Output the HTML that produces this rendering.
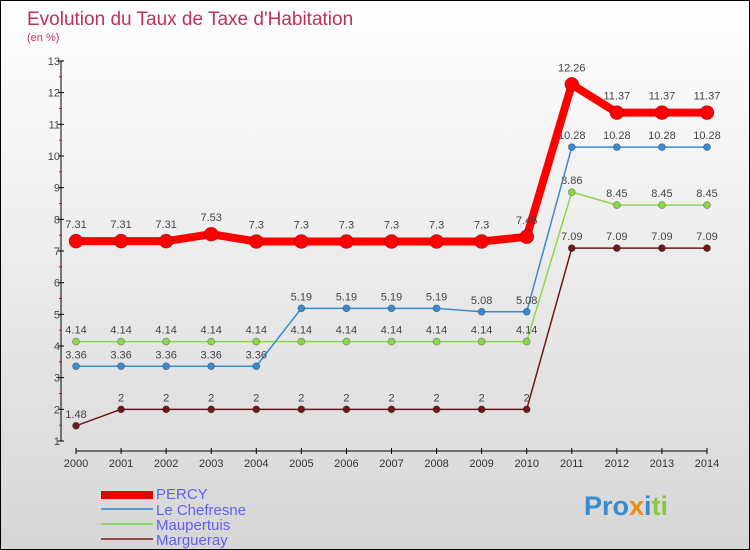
<!DOCTYPE html>
<html><head><meta charset="utf-8"><style>
body{margin:0}
#c{width:750px;height:550px;position:relative;overflow:hidden;box-sizing:border-box;border:1px solid #000;background:linear-gradient(#fff,#d6d6d6);font-family:"Liberation Sans",sans-serif}
</style></head><body>
<div id="c">
<svg id="s" width="750" height="550" style="position:absolute;left:0;top:0">
<text x="26" y="24" font-size="19" fill="#c0305a">Evolution du Taux de Taxe d'Habitation</text>
<text x="26" y="40" font-size="11" fill="#c0305a">(en %)</text>
<g id="ax"></g><g id="ser"></g>
<g font-size="15" fill="#6060ee">
<rect x="100" y="490" width="52" height="8" fill="#e00"/>
<text x="155" y="498">PERCY</text>
<line x1="100" x2="152" y1="508" y2="508" stroke="#5b9ad0" stroke-width="2"/>
<text x="155" y="514">Le Chefresne</text>
<line x1="100" x2="152" y1="523" y2="523" stroke="#8cd66a" stroke-width="2"/>
<text x="155" y="529">Maupertuis</text>
<line x1="100" x2="152" y1="538" y2="538" stroke="#8a4a4a" stroke-width="2"/>
<text x="155" y="544">Margueray</text>
</g>
<text x="583" y="514" font-size="27" font-weight="bold"><tspan fill="#3a8ad0">Pro</tspan><tspan fill="#f08a10">x</tspan><tspan fill="#3a8ad0">i</tspan><tspan fill="#8cc63e">ti</tspan></text>
</svg>
</div>
<script>
const years=[2000,2001,2002,2003,2004,2005,2006,2007,2008,2009,2010,2011,2012,2013,2014];
const percy=[7.31,7.31,7.31,7.53,7.3,7.3,7.3,7.3,7.3,7.3,7.45,12.26,11.37,11.37,11.37];
const chefresne=[3.36,3.36,3.36,3.36,3.36,5.19,5.19,5.19,5.19,5.08,5.08,10.28,10.28,10.28,10.28];
const maupertuis=[4.14,4.14,4.14,4.14,4.14,4.14,4.14,4.14,4.14,4.14,4.14,8.86,8.45,8.45,8.45];
const margueray=[1.48,2,2,2,2,2,2,2,2,2,2,7.09,7.09,7.09,7.09];
const yTicks=[1,2,3,4,5,6,7,8,9,10,11,12,13];
const NS="http://www.w3.org/2000/svg";
const X=i=>75+i*(706-75)/(years.length-1);
const Y=v=>440-(v-1)*(380/12);
function mk(p,t,a){const e=document.createElementNS(NS,t);for(const k in a)e.setAttribute(k,a[k]);p.appendChild(e);return e;}
const ax=document.getElementById('ax'),ser=document.getElementById('ser');
let l=mk(ax,'line',{x1:60,x2:60,y1:60,y2:440,stroke:'#000'});


l=mk(ax,'line',{x1:75,x2:706,y1:450,y2:450,stroke:'#000'});


yTicks.forEach(v=>{
 mk(ax,'line',{x1:57,x2:63,y1:Y(v),y2:Y(v),stroke:'#000'});
 if(v<13)mk(ax,'line',{x1:58,x2:61,y1:Y(v+0.5),y2:Y(v+0.5),stroke:'#f00'});
 const t=mk(ax,'text',{x:59,y:Y(v)+4,'font-size':11,fill:'#444','text-anchor':'end'});t.textContent=v;
 
 
});
years.forEach((y,i)=>{
 mk(ax,'line',{x1:X(i),x2:X(i),y1:447,y2:453,stroke:'#000'});
 const t=mk(ax,'text',{x:X(i),y:466,'font-size':11,fill:'#333','text-anchor':'middle'});t.textContent=y;
 
 
});
function series(d,col,w,r,name,off){
 const g=mk(ser,'g',{});
 
 
 mk(g,'polyline',{points:d.map((v,i)=>X(i)+','+Y(v)).join(' '),fill:'none',stroke:col,'stroke-width':w,'stroke-linejoin':'round'});
 d.forEach((v,i)=>{
  const c=mk(g,'circle',{cx:X(i),cy:Y(v),r:r,fill:col,stroke:'rgba(0,0,0,0.3)','stroke-width':0.8});
  
  
  const t=mk(g,'text',{x:X(i),y:Y(v)-off,'font-size':11,fill:'#444','text-anchor':'middle'});t.textContent=v;
 });
}
series(margueray,'#6a1a1a',1.5,3.5,'margueray',8);
series(maupertuis,'#8cd64a',1.5,3.5,'maupertuis',8);
series(chefresne,'#3a8ad0',1.5,3.5,'le-chefresne',8);
series(percy,'#f00',8,7,'percy',13);
</script>
</body></html>
